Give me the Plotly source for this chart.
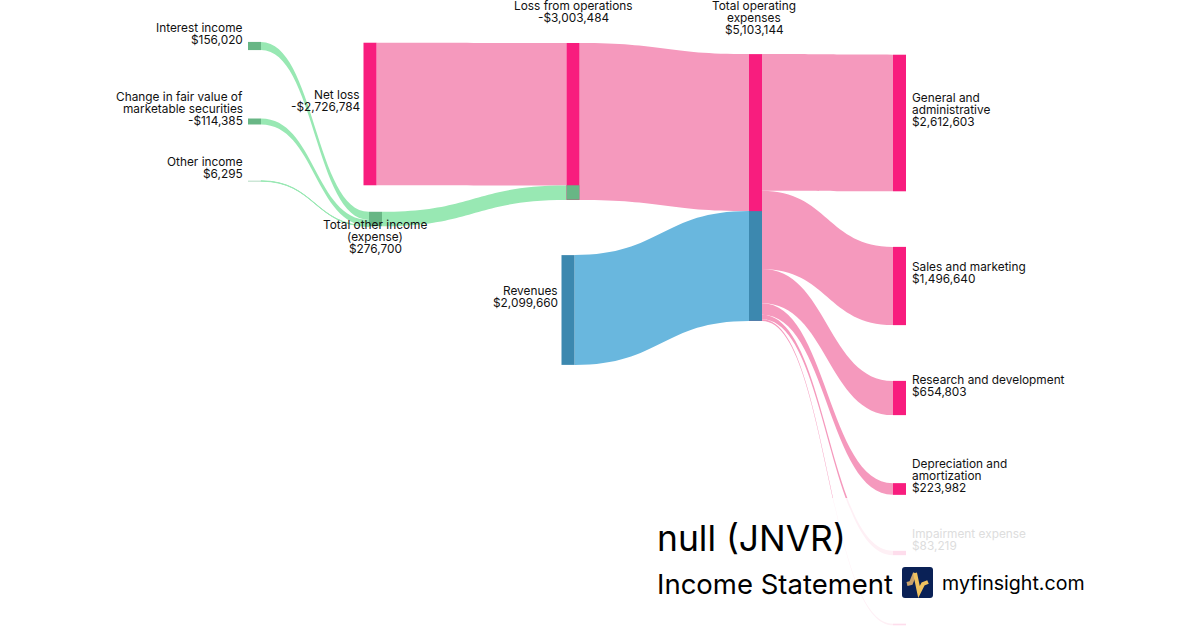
import plotly.graph_objects as go

W, H = 1200, 630

# ---- data ----
interest_income = 156020
fair_value_change = 114385
other_income = 6295
total_other_income = 276700
net_loss = 2726784
loss_from_operations = 3003484
revenues = 2099660
total_operating_expenses = 5103144
general_admin = 2612603
sales_marketing = 1496640
research_development = 654803
depreciation = 223982
impairment = 83219
unlabelled_expense = 31897

# node order
node_names = ["Interest income", "Change in fair value", "Other income", "Net loss",
              "Total other income", "Loss from operations", "Revenues", "Total operating expenses",
              "General and administrative", "Sales and marketing", "Research and development",
              "Depreciation and amortization", "Impairment expense", "Unlabelled",
              "carrier", "other income share", "revenue share"]
link_sources = [0, 1, 2, 3, 4, 5, 6, 7, 7, 7, 7, 7, 7, 14, 14]
link_targets = [4, 4, 4, 5, 5, 7, 7, 8, 9, 10, 11, 12, 13, 15, 16]
link_values = [interest_income, fair_value_change, other_income, net_loss, total_other_income,
               loss_from_operations, revenues, general_admin, sales_marketing,
               research_development, depreciation, impairment, unlabelled_expense,
               total_other_income, revenues]

# ---- styling ----
PINK, PINK_L = "#F81D7E", "#F599BD"
GREEN, GREEN_L = "#68B685", "#98E8B3"
BLUE, BLUE_L = "#3C88AF", "#69B7DE"
NONE = "rgba(0,0,0,0)"
node_colors = [GREEN, GREEN, GREEN, PINK, GREEN, PINK, BLUE, PINK,
               PINK, PINK, PINK, PINK, PINK, PINK, NONE, GREEN, BLUE]
link_colors = [GREEN_L, GREEN_L, GREEN_L, PINK_L, GREEN_L, PINK_L, BLUE_L,
               PINK_L, PINK_L, PINK_L, PINK_L, PINK_L, PINK_L, NONE, NONE]
node_px_x = [254.5, 254.5, 254.5, 370, 375.5, 573, 568, 755.5,
             899.5, 899.5, 899.5, 899.5, 899.5, 899.5, 20, 573, 755.5]
node_px_y = [46, 121.5, 181, 114, 219, 121.5, 310, 187.5,
             123, 286, 398, 489, 553, 624.5, 100, 192.5, 266]

fig = go.Figure(go.Sankey(
    arrangement="fixed",
    domain=dict(x=[0, 1], y=[0, 1]),
    node=dict(label=[""] * len(node_names), color=node_colors, thickness=13, pad=47.8,
              align="left", line=dict(width=0), hoverinfo="skip",
              x=[v / W for v in node_px_x], y=[v / H for v in node_px_y]),
    link=dict(source=link_sources, target=link_targets, value=link_values,
              color=link_colors, hoverinfo="skip"),
))

labels = [
    (["Interest income", "$156,020"], 244.5, 28, "right"),
    (["Change in fair value of", "marketable securities", "-$114,385"], 244.5, 97, "right"),
    (["Other income", "$6,295"], 244.5, 162, "right"),
    (["Net loss", "-$2,726,784"], 360.5, 95, "right"),
    (["Total other income", "(expense)", "$276,700"], 375, 225, "center"),
    (["Loss from operations", "-$3,003,484"], 573, 6, "center"),
    (["Total operating", "expenses", "$5,103,144"], 754, 6, "center"),
    (["Revenues", "$2,099,660"], 558.5, 291, "right"),
    (["General and", "administrative", "$2,612,603"], 911, 98, "left"),
    (["Sales and marketing", "$1,496,640"], 911, 267, "left"),
    (["Research and development", "$654,803"], 911, 380, "left"),
    (["Depreciation and", "amortization", "$223,982"], 911, 464, "left"),
    (["Impairment expense", "$83,219"], 911, 534, "left"),
]


def note(text, x, y, anchor, size=11.85, color="#111111"):
    fig.add_annotation(text=text, x=x / W, y=1 - y / H, xref="paper", yref="paper",
                       xanchor=anchor, yanchor="middle", showarrow=False,
                       xshift=0, yshift=0, borderpad=0,
                       font=dict(family="Inter", size=size, color=color))


for lines, x, y, anchor in labels:
    faded = lines[0].startswith("Impairment")
    for i, line in enumerate(lines):
        note(line, x, y + 12 * i, anchor, color="#DDDDDD" if faded else "#111111")

note("null (JNVR)", 656, 538, "left", size=35.4, color="#000000")
note("Income Statement", 656, 584, "left", size=27.5, color="#000000")
note("myfinsight.com", 941, 583, "left", size=19.6, color="#000000")


def px(x, y):
    return f"{x / W:.5f},{1 - y / H:.5f}"


shapes = [
    dict(type="rect", xref="paper", yref="paper", x0=640 / W, x1=1, y0=0, y1=1 - 498 / H,
         fillcolor="rgba(255,255,255,0.85)", line=dict(width=0), layer="above"),
    dict(type="path", xref="paper", yref="paper", layer="above", line=dict(width=0),
         fillcolor="#0A2156",
         path=f"M{px(905, 567)} L{px(930, 567)} Q{px(933, 567)} {px(933, 570)} L{px(933, 595)} "
              f"Q{px(933, 598)} {px(930, 598)} L{px(905, 598)} Q{px(902, 598)} {px(902, 595)} "
              f"L{px(902, 570)} Q{px(902, 567)} {px(905, 567)} Z"),
    dict(type="path", xref="paper", yref="paper", layer="above",
         line=dict(width=4, color="#C9A26B"),
         path=f"M{px(907, 584)} L{px(911, 583)} L{px(915, 573)}"),
    dict(type="path", xref="paper", yref="paper", layer="above",
         line=dict(width=4, color="#F0C25F"),
         path=f"M{px(915, 573)} L{px(919, 592)} L{px(923, 584)} L{px(928, 582)}"),
]

fig.update_layout(width=W, height=H, margin=dict(l=0, r=0, t=0, b=0, pad=0),
                  paper_bgcolor="#FFFFFF", plot_bgcolor="#FFFFFF",
                  font=dict(family="Inter"), showlegend=False, shapes=shapes)
fig.write_html("out.html", config=dict(displayModeBar=False),
               post_script="document.body.style.margin='0';document.body.style.overflow='hidden';")
